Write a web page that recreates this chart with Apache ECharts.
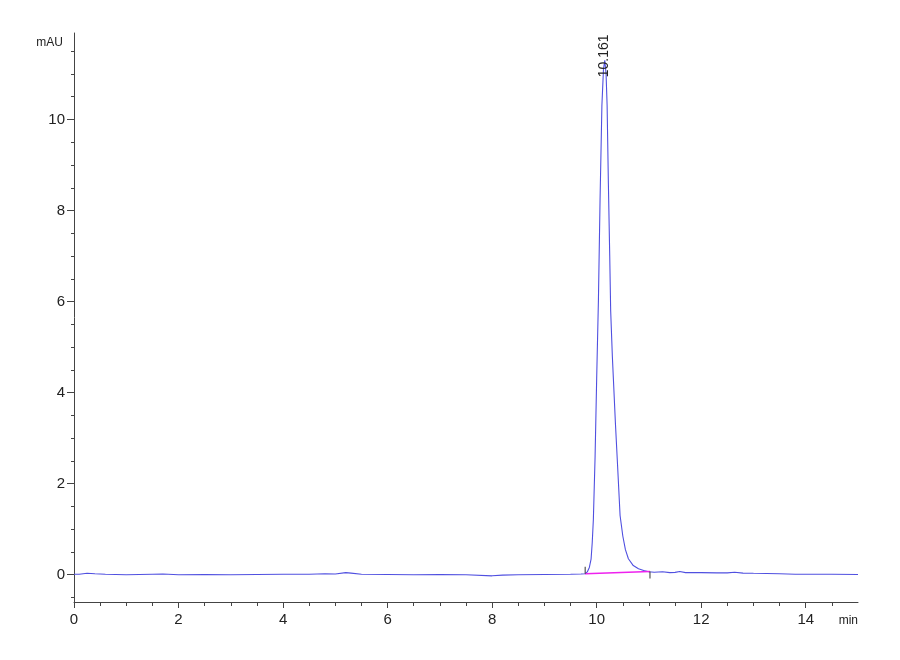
<!DOCTYPE html>
<html>
<head>
<meta charset="utf-8">
<script src="https://cdn.jsdelivr.net/npm/echarts@6/dist/echarts.min.js"></script>
<style>html,body{margin:0;padding:0;background:#fff}#c{width:900px;height:660px}</style>
</head>
<body>
<div id="c"></div>
<script>
// ---- data ----
const times = [0.0,0.1,0.25,0.4,0.6,1.0,1.5,1.7,2.0,2.5,3.0,3.5,4.0,4.5,4.8,5.0,5.2,5.3,5.5,6.0,6.5,7.0,7.5,8.0,8.2,8.5,9.0,9.5,9.7,
  9.78,9.82,9.86,9.893,9.915,9.937,9.97,10.0,10.033,10.065,10.1,10.13,10.155,10.18,10.2,10.224,10.25,10.268,10.3,10.32,10.36,10.4,10.448,10.5,10.55,10.607,10.7,10.8,10.9,
  11.0,11.1,11.26,11.4,11.5,11.59,11.7,12.0,12.3,12.5,12.64,12.8,13.0,13.5,13.8,14.0,14.5,15.0];
const signal = [0.01,0.01,0.03,0.02,0.01,0.0,0.01,0.015,0.0,0.005,0.0,0.005,0.01,0.01,0.02,0.015,0.045,0.035,0.01,0.005,0.0,0.005,0.0,-0.025,-0.01,0.0,0.005,0.01,0.015,
  0.02,0.06,0.16,0.34,0.7,1.22,2.6,4.3,6.0,8.25,10.3,11.1,11.3,11.0,10.3,8.6,7.0,5.8,4.8,4.3,3.3,2.4,1.3,0.85,0.55,0.35,0.2,0.13,0.09,
  0.065,0.055,0.065,0.045,0.05,0.07,0.045,0.045,0.04,0.04,0.055,0.035,0.03,0.02,0.01,0.01,0.01,0.005];
const peakTime = 10.161;
const peakHeight = 11.3;
const peakLabel = '10.161';
const baselineStart = [9.78, 0.02];
const baselineEnd = [11.02, 0.07];
const xMajorTicks = [0,2,4,6,8,10,12,14];
const xMinorTicks = [0.5,1,1.5,2.5,3,3.5,4.5,5,5.5,6.5,7,7.5,8.5,9,9.5,10.5,11,11.5,12.5,13,13.5,14.5];
const yMajorTicks = [0,2,4,6,8,10];
const yMinorTicks = [-0.5,0.5,1,1.5,2.5,3,3.5,4.5,5,5.5,6.5,7,7.5,8.5,9,9.5,10.5,11,11.5];
const xRange = [0, 15];
const yRange = [-0.6, 11.9];

const trace = times.map((t, i) => [t, signal[i]]);
const axisColor = '#444';
const labelFont = '"Liberation Sans", Arial, sans-serif';

const chart = echarts.init(document.getElementById('c'), null, {renderer: 'canvas'});
chart.setOption({
  animation: false,
  backgroundColor: '#fff',
  color: ['#5050e0', '#ee22ee', '#333333'],
  grid: {left: 74, right: 42, top: 33, bottom: 58},
  xAxis: [{
    type: 'value', min: xRange[0], max: xRange[1], position: 'bottom',
    name: 'min', nameLocation: 'end', nameGap: 0, nameMoveOverlap: false,
    nameTextStyle: {color: '#222', fontSize: 12, fontFamily: labelFont, align: 'right', verticalAlign: 'top', padding: [13, 0, 0, 0]},
    axisLine: {show: true, onZero: false, lineStyle: {color: axisColor, width: 1}},
    axisTick: {show: true, customValues: xMajorTicks, length: 6, lineStyle: {color: axisColor}},
    axisLabel: {show: true, customValues: xMajorTicks, margin: 10, color: '#222', fontSize: 15, fontFamily: labelFont},
    splitLine: {show: false}
  }, {
    type: 'value', min: xRange[0], max: xRange[1], position: 'bottom',
    axisLine: {show: false, onZero: false},
    axisTick: {show: true, customValues: xMinorTicks, length: 4, lineStyle: {color: axisColor}},
    axisLabel: {show: false},
    splitLine: {show: false}
  }],
  yAxis: [{
    type: 'value', min: yRange[0], max: yRange[1], position: 'left',
    name: 'mAU', nameLocation: 'end', nameGap: -10, nameMoveOverlap: false,
    nameTextStyle: {color: '#222', fontSize: 12, fontFamily: labelFont, align: 'right', verticalAlign: 'middle', padding: [0, 11, 0, 0]},
    axisLine: {show: true, onZero: false, lineStyle: {color: axisColor, width: 1}},
    axisTick: {show: true, customValues: yMajorTicks, length: 7, lineStyle: {color: axisColor}},
    axisLabel: {show: true, customValues: yMajorTicks, margin: 9, color: '#222', fontSize: 15, fontFamily: labelFont},
    splitLine: {show: false}
  }, {
    type: 'value', min: yRange[0], max: yRange[1], position: 'left',
    axisLine: {show: false, onZero: false},
    axisTick: {show: true, customValues: yMinorTicks, length: 3, lineStyle: {color: axisColor}},
    axisLabel: {show: false},
    splitLine: {show: false}
  }],
  series: [{
    type: 'line', name: 'signal', data: trace, showSymbol: false, symbol: 'none', smooth: false,
    itemStyle: {color: '#5050e0'},
    lineStyle: {color: '#5050e0', width: 1.1}, z: 3
  }, {
    type: 'line', name: 'baseline', data: [baselineStart, baselineEnd], showSymbol: false, symbol: 'none',
    itemStyle: {color: '#ee22ee'},
    lineStyle: {color: '#ee22ee', width: 1.5}, z: 4
  }, {
    type: 'custom', name: 'markers', data: [baselineStart, baselineEnd],
    itemStyle: {color: '#333'},
    renderItem: function (params, api) {
      const p = api.coord([api.value(0), api.value(1)]);
      const dir = params.dataIndex === 0 ? -1 : 1;
      return {type: 'line', shape: {x1: p[0], y1: p[1], x2: p[0], y2: p[1] + dir * 7},
        style: {stroke: '#333', lineWidth: 1}};
    }, z: 5
  }]
});
// peak label, placed through the chart's own scale
const anchor = chart.convertToPixel({xAxisIndex: 0, yAxisIndex: 0}, [peakTime, peakHeight]);
chart.setOption({
  graphic: [{
    type: 'text', x: anchor[0] - 1, y: anchor[1] + 17, rotation: Math.PI / 2,
    style: {text: peakLabel, fill: '#222', fontSize: 14, fontFamily: labelFont, align: 'left', verticalAlign: 'middle'},
    z: 10, silent: true
  }]
});
</script>
</body>
</html>
